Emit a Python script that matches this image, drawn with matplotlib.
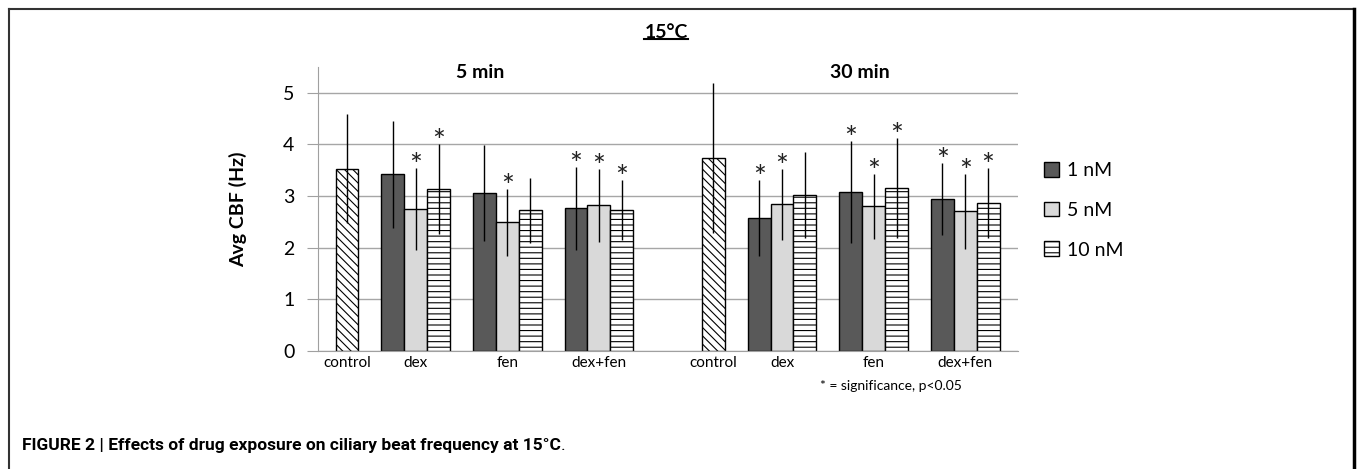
import numpy as np
import matplotlib
matplotlib.use("Agg")
import matplotlib.pyplot as plt
from matplotlib.patches import Patch
from matplotlib.lines import Line2D

plt.rcParams['font.family'] = ['Lato', 'DejaVu Sans']
plt.rcParams['hatch.linewidth'] = 0.8

# data
categories = ['control', 'dex', 'fen', 'dex+fen']
treatments = ['dex', 'fen', 'dex+fen']
concentrations = ['1 nM', '5 nM', '10 nM']
panels = ['5 min', '30 min']

control_mean = [3.53, 3.73]
control_err = [1.06, 1.45]

# 5 min
nm1_5 = [3.42, 3.05, 2.76]
nm5_5 = [2.75, 2.49, 2.82]
nm10_5 = [3.13, 2.72, 2.73]
nm1_5_err = [1.04, 0.93, 0.80]
nm5_5_err = [0.79, 0.65, 0.71]
nm10_5_err = [0.87, 0.63, 0.58]
nm1_5_sig = [False, False, True]
nm5_5_sig = [True, True, True]
nm10_5_sig = [True, False, True]

# 30 min
nm1_30 = [2.57, 3.07, 2.94]
nm5_30 = [2.84, 2.80, 2.70]
nm10_30 = [3.02, 3.16, 2.86]
nm1_30_err = [0.73, 0.99, 0.70]
nm5_30_err = [0.69, 0.63, 0.72]
nm10_30_err = [0.84, 0.97, 0.68]
nm1_30_sig = [True, True, True]
nm5_30_sig = [True, True, True]
nm10_30_sig = [False, True, True]

means = [[nm1_5, nm5_5, nm10_5], [nm1_30, nm5_30, nm10_30]]
errs = [[nm1_5_err, nm5_5_err, nm10_5_err], [nm1_30_err, nm5_30_err, nm10_30_err]]
sigs = [[nm1_5_sig, nm5_5_sig, nm10_5_sig], [nm1_30_sig, nm5_30_sig, nm10_30_sig]]

# layout
group_pos = np.array([0, 3, 7, 11])
panel_shift = 16
offsets = [-1, 0, 1]
faces = ['#595959', '#d9d9d9', 'white']
hatches = [None, None, '---']

fig = plt.figure(figsize=(13.57, 4.69), dpi=100)
ax = fig.add_axes([0.2343, 0.2522, 0.5156, 0.605])

ticks = []
ticklabels = []
for p in range(2):
    base = group_pos + p * panel_shift
    ax.bar(base[0], control_mean[p], width=1, color='white', edgecolor='black',
           hatch='\\\\\\\\', linewidth=1, zorder=2)
    ax.errorbar(base[0], control_mean[p], yerr=control_err[p], fmt='none',
                ecolor='black', elinewidth=1, capsize=0, zorder=3)
    for c in range(3):
        xs = base[1:] + offsets[c]
        ax.bar(xs, means[p][c], width=1, color=faces[c], edgecolor='black',
               hatch=hatches[c], linewidth=1, zorder=2)
        ax.errorbar(xs, means[p][c], yerr=errs[p][c], fmt='none',
                    ecolor='black', elinewidth=1, capsize=0, zorder=3)
        for x, m, e, s in zip(xs, means[p][c], errs[p][c], sigs[p][c]):
            if s:
                ax.annotate('*', (x, m + e), xytext=(0, -5), textcoords='offset points',
                            ha='center', va='baseline', fontsize=22, color='#222222')
    ticks += list(base)
    ticklabels += categories

ax.set_xlim(-1.27, 29.29)
ax.set_ylim(0, 5.5)
ax.set_yticks(np.arange(0, 6, 1))
ax.tick_params(axis='y', labelsize=14, length=8, color='#a0a0a0', pad=9)
ax.set_xticks(ticks)
ax.set_xticklabels(ticklabels, fontsize=11)
ax.tick_params(axis='x', length=0, pad=4)
ax.yaxis.grid(True, color='#a6a6a6', linewidth=1)
ax.set_axisbelow(True)
for side in ['top', 'right']:
    ax.spines[side].set_visible(False)
ax.spines['left'].set_color('#a0a0a0')
ax.spines['bottom'].set_color('#a0a0a0')
ax.set_ylabel('Avg CBF (Hz)', fontsize=14, fontweight='bold', labelpad=26)

ax.text(5.8, 5.39, panels[0], ha='center', va='center', fontsize=14, fontweight='bold')
ax.text(22.4, 5.39, panels[1], ha='center', va='center', fontsize=14, fontweight='bold')

handles = [Patch(facecolor=faces[i], edgecolor='black', hatch=hatches[i]) for i in range(3)]
ax.legend(handles, concentrations, loc='upper left', bbox_to_anchor=(1.026, 0.693),
          frameon=False, fontsize=14, handlelength=0.8, handleheight=0.8,
          handletextpad=0.4, labelspacing=1.16, borderaxespad=0)

fig.text(820 / 1357, 1 - 386 / 469, '* = significance, p<0.05', fontsize=10, va='center')

# title with underline
title = fig.text(666 / 1357, 1 - 32 / 469, '15°C', ha='center', va='center',
                 fontsize=14, fontweight='bold')
fig.canvas.draw()
bb = title.get_window_extent().transformed(fig.transFigure.inverted())
fig.add_artist(Line2D([bb.x0, bb.x1], [bb.y0 + 0.004, bb.y0 + 0.004],
                      color='black', linewidth=1.5, transform=fig.transFigure))

cap_font = ['Roboto', 'DejaVu Sans']
cap = fig.text(22 / 1357, 1 - 445 / 469,
               'FIGURE 2 | Effects of drug exposure on ciliary beat frequency at 15°C',
               fontsize=12.5, fontweight='bold', va='center', family=cap_font)
ax.annotate('.', xy=(1, 0), xycoords=cap, va='bottom', fontsize=12.5,
            family=cap_font, annotation_clip=False)

# frame around the figure panel
frame_kw = dict(color='#333333', linewidth=1.5, transform=fig.transFigure)
fig.add_artist(Line2D([9 / 1357, 1354 / 1357], [1 - 9 / 469, 1 - 9 / 469], **frame_kw))
fig.add_artist(Line2D([9 / 1357, 9 / 1357], [0, 1 - 9 / 469], **frame_kw))
fig.add_artist(Line2D([1354 / 1357, 1354 / 1357], [0, 1 - 9 / 469], color='black',
                      linewidth=2.5, transform=fig.transFigure))

fig.savefig('out.png', dpi=100)
